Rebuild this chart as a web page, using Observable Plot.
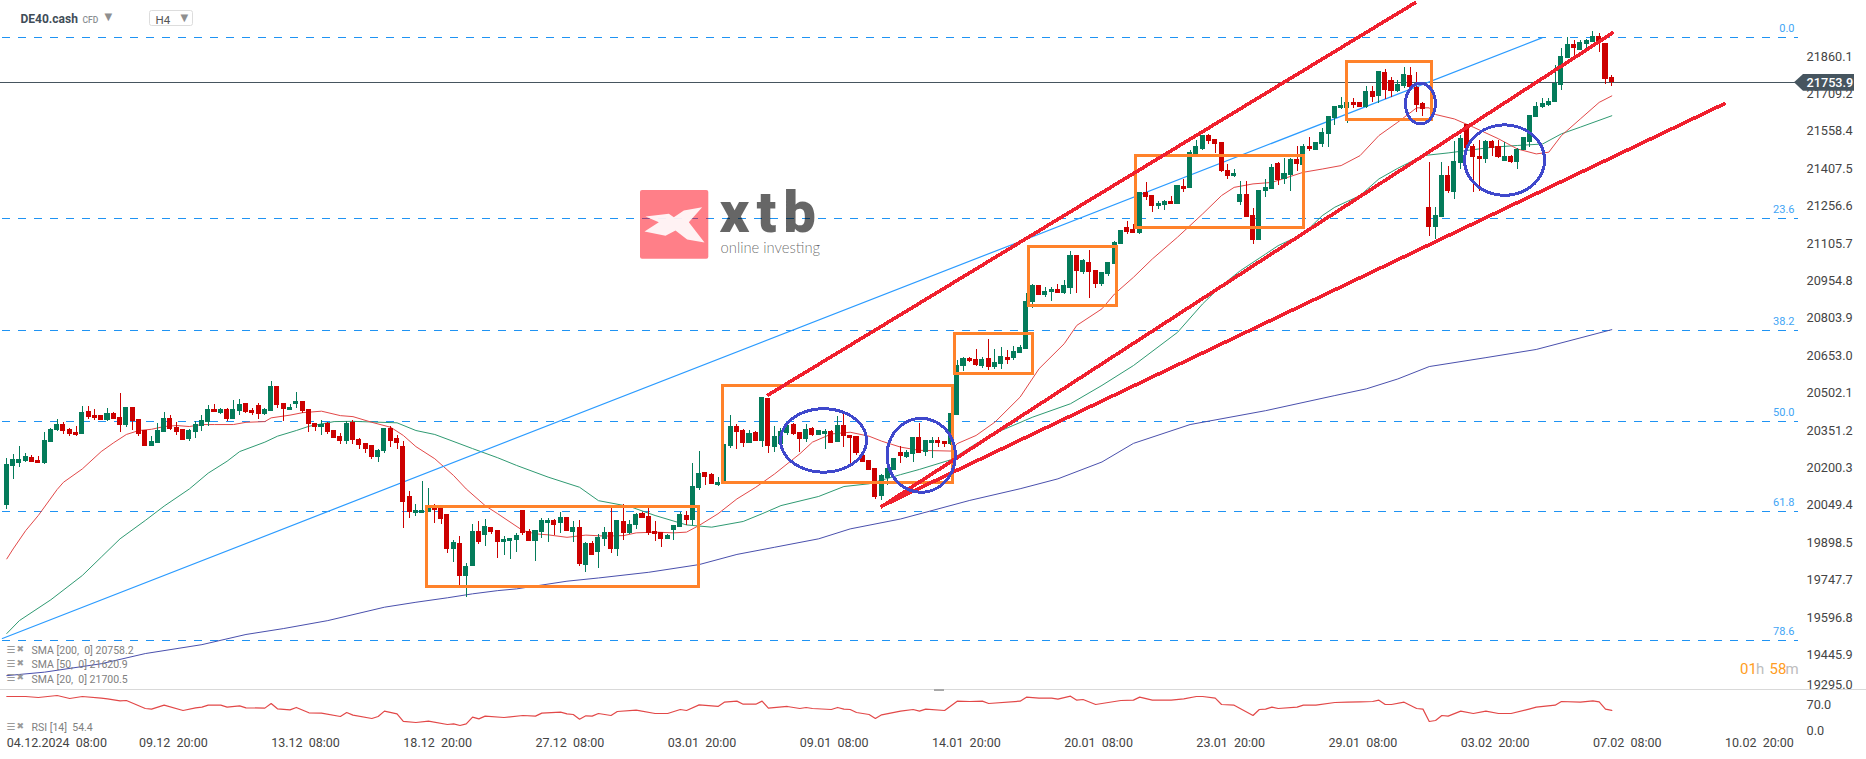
<!DOCTYPE html>
<html><head><meta charset="utf-8">
<script src="https://cdn.jsdelivr.net/npm/d3@7"></script>
<script src="https://cdn.jsdelivr.net/npm/@observablehq/plot@0.6"></script>
<style>html,body{margin:0;padding:0;background:#fff;overflow:hidden}#chart{position:relative;width:1866px;height:759px}svg{display:block;overflow:visible}</style>
</head><body><div id="chart"></div>
<script>
const opens=[20050,20206,20218,20226,20242,20230,20218,20302,20351,20375,
20355,20343,20335,20427,20411,20411,20391,20419,20403,20371,
20444,20395,20351,20286,20298,20343,20399,20363,20355,20314,
20343,20367,20383,20436,20419,20436,20395,20427,20460,20432,
20452,20415,20427,20528,20460,20432,20456,20468,20436,20379,
20363,20379,20351,20327,20306,20383,20314,20298,20290,20242,
20266,20359,20319,20286,20085,20016,20016,20020,20036,20036,
20012,19871,19895,19762,19802,19943,19927,19959,19947,19899,
19903,19907,20028,19943,19903,19939,19976,19988,19976,20000,
19939,19959,19806,19895,19859,19911,19939,19871,19984,19935,
19968,20016,20004,19943,19939,19911,19947,19959,20008,19988,
20117,20181,20173,20129,20143,20287,20367,20351,20299,20343,
20307,20481,20283,20295,20338,20376,20341,20315,20358,20331,
20335,20347,20303,20371,20331,20327,20250,20230,20198,20085,
20158,20190,20263,20241,20254,20323,20263,20299,20311,20307,
20295,20412,20609,20641,20637,20609,20641,20605,20617,20645,
20641,20661,20677,20867,20936,20895,20907,20919,20903,20923,
21057,20988,21028,20996,20940,20980,21020,21101,21170,21162,
21146,21311,21299,21254,21258,21275,21263,21335,21327,21464,
21484,21541,21525,21513,21400,21375,21271,21303,21218,21117,
21315,21323,21428,21363,21380,21444,21420,21497,21480,21505,
21545,21610,21650,21650,21674,21674,21654,21718,21698,21795,
21763,21718,21739,21783,21735,21670,21251,21170,21210,21380,
21311,21428,21585,21497,21456,21444,21517,21497,21436,21456,
21432,21480,21513,21614,21654,21662,21674,21743,21852,21908,
21884,21908,21916,21940,21912,21775];
const highs=[20238,20254,20286,20258,20250,20246,20343,20359,20395,20383,
20359,20367,20448,20448,20436,20411,20440,20423,20500,20444,
20444,20395,20351,20327,20379,20423,20411,20383,20355,20355,
20387,20411,20452,20456,20440,20440,20472,20476,20460,20440,
20460,20440,20549,20528,20460,20456,20504,20468,20436,20379,
20391,20383,20351,20339,20387,20391,20319,20298,20290,20274,
20359,20367,20331,20306,20105,20052,20145,20117,20052,20036,
20012,19907,19923,19814,19972,19984,19992,19959,19947,19923,
19915,19935,20028,19951,19947,19996,19996,19992,20020,20000,
19984,19988,19899,19903,19931,19959,20036,19988,20052,19988,
20016,20020,20036,19984,19939,19931,19968,20020,20024,20218,
20266,20181,20177,20161,20295,20412,20376,20355,20351,20347,
20485,20481,20367,20360,20385,20380,20341,20376,20362,20351,
20355,20351,20408,20419,20331,20327,20250,20230,20198,20174,
20198,20238,20287,20271,20323,20380,20311,20323,20323,20307,
20420,20634,20645,20645,20677,20644,20718,20677,20685,20673,
20689,20693,20903,20940,20936,20927,20927,20940,20956,21073,
21057,21040,21077,20996,20988,21028,21113,21157,21194,21182,
21311,21351,21299,21275,21279,21295,21339,21363,21480,21521,
21541,21545,21525,21513,21424,21404,21355,21355,21246,21319,
21363,21424,21432,21448,21448,21497,21505,21533,21513,21569,
21618,21658,21694,21674,21690,21674,21739,21739,21799,21807,
21775,21763,21815,21815,21795,21674,21432,21251,21432,21416,
21517,21541,21585,21505,21521,21521,21521,21521,21513,21460,
21488,21533,21622,21674,21690,21690,21823,21892,21936,21924,
21924,21928,21961,21953,21912,21783];
const lows=[20033,20153,20202,20222,20222,20218,20214,20302,20347,20335,
20327,20327,20335,20395,20391,20391,20387,20395,20343,20363,
20351,20327,20286,20286,20298,20343,20351,20331,20310,20306,
20319,20347,20367,20423,20415,20387,20395,20411,20419,20411,
20395,20411,20427,20440,20387,20432,20440,20419,20343,20347,
20331,20335,20319,20294,20294,20294,20274,20258,20234,20222,
20258,20282,20274,19955,19996,20004,20016,20020,19976,19972,
19855,19818,19721,19677,19802,19891,19883,19931,19834,19846,
19830,19859,19927,19903,19822,19915,19899,19927,19935,19943,
19899,19802,19778,19846,19794,19883,19855,19842,19907,19931,
19951,19996,19927,19903,19879,19911,19907,19959,19968,19968,
20109,20129,20133,20125,20143,20279,20275,20283,20299,20307,
20283,20259,20263,20295,20330,20330,20261,20304,20328,20331,
20275,20299,20303,20283,20214,20250,20222,20190,20072,20069,
20129,20190,20218,20238,20222,20259,20246,20238,20283,20283,
20291,20412,20589,20625,20609,20601,20593,20597,20597,20617,
20633,20661,20677,20843,20895,20887,20871,20903,20899,20899,
20903,20980,20883,20923,20931,20972,21020,21101,21141,21146,
21141,21279,21230,21242,21238,21263,21263,21311,21327,21464,
21480,21505,21468,21392,21363,21371,21258,21210,21101,21117,
21291,21323,21339,21343,21315,21396,21420,21476,21480,21493,
21493,21581,21646,21589,21650,21654,21650,21674,21670,21686,
21694,21715,21731,21731,21634,21618,21133,21121,21210,21307,
21283,21404,21488,21311,21315,21428,21456,21448,21436,21428,
21404,21480,21493,21614,21650,21658,21674,21723,21852,21852,
21884,21892,21916,21876,21747,21739];
const closes=[20214,20234,20234,20246,20222,20218,20310,20355,20375,20347,
20335,20331,20423,20403,20399,20391,20419,20395,20371,20444,
20387,20335,20286,20306,20351,20399,20355,20343,20310,20351,
20375,20391,20436,20423,20436,20395,20436,20456,20423,20419,
20415,20436,20528,20452,20436,20444,20468,20427,20375,20363,
20375,20343,20319,20306,20379,20310,20290,20274,20242,20270,
20359,20306,20298,20060,20020,20028,20028,20036,20028,19992,
19871,19899,19762,19802,19943,19899,19963,19939,19899,19911,
19915,19927,19935,19903,19947,19988,19988,19968,20000,19943,
19959,19810,19895,19846,19919,19939,19871,19988,19935,19972,
20012,19996,19935,19931,19911,19927,19968,20012,19988,20125,
20177,20161,20133,20141,20295,20367,20343,20299,20339,20307,
20485,20287,20327,20349,20371,20335,20315,20354,20331,20351,
20347,20299,20371,20327,20319,20259,20222,20190,20082,20170,
20198,20238,20246,20263,20323,20259,20311,20311,20299,20295,
20420,20613,20641,20629,20613,20637,20605,20625,20649,20633,
20669,20685,20871,20936,20895,20911,20919,20903,20936,21057,
20992,21036,20988,20940,20988,21028,21109,21157,21149,21146,
21311,21291,21254,21267,21275,21263,21339,21323,21472,21497,
21541,21517,21505,21396,21375,21388,21303,21210,21117,21319,
21331,21412,21359,21388,21444,21424,21497,21484,21513,21553,
21618,21658,21662,21674,21662,21654,21718,21694,21799,21723,
21718,21747,21787,21735,21662,21646,21170,21218,21380,21315,
21436,21529,21488,21452,21444,21517,21488,21452,21456,21432,
21484,21533,21622,21658,21670,21678,21751,21860,21908,21892,
21916,21924,21940,21920,21767,21754];

const sma20Idx=[0,1,3,5,8,9,12,15,17,19,21,23,25,27,29,31,33,36,38,41,42,45,47,50,53,55,58,61,63,65,68,71,73,76,78,82,84,86,89,92,95,98,100,103,106,108,110,113,116,119,122,126,128,131,134,137,139,142,145,150,151,154,157,161,164,168,170,174,176,179,182,186,190,193,195,198,201,206,209,212,215,218,221,224,226,227,230,233,237,240,243,245,247,250,253,255];
const sma20Val=[19833,19873,19947,20008,20113,20142,20196,20266,20302,20335,20351,20356,20367,20371,20367,20375,20375,20375,20384,20387,20402,20413,20423,20429,20411,20407,20384,20364,20331,20286,20237,20169,20115,20048,20015,19947,19934,19930,19920,19929,19925,19927,19938,19941,19938,19941,19968,20015,20075,20122,20176,20257,20304,20337,20344,20328,20308,20284,20271,20268,20298,20331,20385,20486,20600,20701,20775,20842,20902,20969,21043,21131,21225,21299,21332,21346,21352,21393,21406,21420,21460,21541,21595,21653,21653,21626,21608,21575,21528,21487,21467,21474,21541,21608,21675,21701];
const sma50Idx=[0,2,7,12,15,18,22,25,29,32,35,37,41,43,46,48,52,55,62,65,68,72,74,78,81,86,91,94,99,103,108,112,117,120,123,129,133,137,142,145,150,154,158,163,169,174,179,186,190,193,196,200,202,206,209,211,215,218,221,225,229,236,240,244,247,250,255];
const sma50Val=[19532,19584,19668,19766,19840,19914,19988,20046,20115,20179,20227,20266,20304,20328,20351,20368,20387,20388,20382,20351,20335,20297,20278,20241,20210,20163,20122,20068,20044,20008,19970,19961,19984,20015,20048,20085,20125,20136,20173,20194,20233,20298,20351,20405,20459,20533,20613,20747,20862,20936,20996,21063,21097,21144,21218,21252,21299,21366,21409,21460,21471,21494,21501,21507,21548,21575,21621];
const sma200Idx=[0,6,15,22,31,38,44,51,55,60,65,70,74,78,81,89,94,102,110,116,122,129,134,142,153,161,167,174,179,188,200,211,216,221,226,235,243,255];
const sma200Val=[19362,19376,19410,19451,19487,19528,19552,19584,19608,19638,19658,19676,19692,19705,19712,19743,19756,19779,19810,19851,19880,19914,19954,19994,20069,20116,20156,20224,20299,20375,20431,20492,20519,20559,20609,20645,20678,20758];
const rsiIdx=[0,3,5,8,10,12,15,16,18,19,22,23,25,28,30,31,32,34,35,37,38,41,42,43,45,46,48,50,53,54,55,58,59,60,62,63,65,67,70,71,72,73,74,75,76,79,82,84,85,88,89,90,91,92,93,94,96,97,100,103,105,107,108,110,113,114,116,117,119,120,121,124,126,127,128,131,132,133,134,135,137,138,139,142,144,145,146,149,151,153,155,156,161,162,164,166,167,169,170,171,173,177,179,180,182,185,187,189,190,192,193,195,198,199,200,201,202,205,206,208,211,213,215,217,218,219,220,222,224,225,226,227,228,229,231,233,235,237,239,242,243,246,247,250,252,253,254,255];
const rsiVal=[91.6,91.6,88.9,94.3,86.2,91.6,87,85.3,79.9,80.8,59.3,57.5,68.2,53.9,61,62.9,68.2,68.2,62.9,66.4,61,60.2,72.7,58.4,55.7,62,47.6,46.7,37.7,48.5,41.3,32.3,37.7,52.1,44.9,24.3,21.6,25.2,16.2,18,13.5,18,35.9,31.4,38.6,35,40.4,38.6,46.7,49.4,44.9,43.1,30.5,39.5,38.6,45.8,40.4,51.2,54.8,45.8,45.8,56.6,53.9,69.1,64.7,76.3,79,70.9,70.9,79,60.2,64.7,59.3,62,59.3,56.6,62,57.5,56.6,48.5,43.1,32.3,42.2,52.1,56.6,52.1,57.5,53.9,79,78.1,79,72.7,79,89.8,87.1,87.1,84.4,92.5,81.7,83.5,70,80.8,81.7,89.8,81.7,81.7,85.3,91.6,91.6,87,70,68.2,40.4,56.6,57.5,62.9,59.3,62.9,68.2,68.2,75.4,76.3,77.2,78.1,81.7,70,70,76.3,59.3,57.5,24.3,27,40.4,38.6,52.1,45.8,52.1,45.8,45.8,58.4,62.9,68.2,78.1,76.3,79.9,77.2,57.5,54.4];

const fibLevels=["0.0","23.6","38.2","50.0","61.8","78.6"];
const fibPrices=[21935.5,21205,20753,20387,20023,19504];
const priceTicks=[21860.1,21709.2,21558.4,21407.5,21256.6,21105.7,20954.8,20803.9,20653.0,20502.1,20351.2,20200.3,20049.4,19898.5,19747.7,19596.8,19445.9,19295.0];
const dateTickIdx=[0,21,42,63,84,105,126,147,168,189,210,231,252,273];
const dateTicks=["04.12.2024  08:00","09.12  20:00","13.12  08:00","18.12  20:00","27.12  08:00","03.01  20:00","09.01  08:00","14.01  20:00","20.01  08:00","23.01  20:00","29.01  08:00","03.02  20:00","07.02  08:00","10.02  20:00"];
const lastPrice=21753.9;

const boxStart=[66.79,113.82,150.68,162.38,179.38,212.97];
const boxEnd=[109.95,150.36,163.08,176.31,206.13,226.47];
const boxTop=[20041.5,20532.5,20741,21092,21459,21837];
const boxBottom=[19719,20140,20580,20854,21169,21605];

const trendStartIdx=[120.8,138.8,138.8];
const trendStartVal=[20492,20041,20043];
const trendEndIdx=[223.9,255.3,273.1];
const trendEndVal=[22079,21958,21672];
const thinStartIdx=-0.7, thinStartVal=19512, thinEndIdx=243.9, thinEndVal=21935;

const circleIdx=[129.76,145.28,224.6,237.96];
const circleVal=[20311,20251,21670,21442];
const circleRadIdx=[6.83,5.43,2.38,6.36];
const circleRadVal=[128,149,82,142];

const legendLines=["SMA [200,  0] 20758.2","SMA [50,  0] 21620.9","SMA [20,  0] 21700.5"];

// scales shared by both panels
const W=1866, H1=689, H2=70;
const xDomain=[-1.001,295.47];
const yDomain=[22086,19306];
const rsiDomain=[110.4,-78.1];
const atX=px=>xDomain[0]+px*(xDomain[1]-xDomain[0])/W;
const atY=py=>yDomain[0]+py*(yDomain[1]-yDomain[0])/H1;

const candles=opens.map((o,i)=>({i,o,h:highs[i],l:lows[i],c:closes[i]}));
const ups=candles.filter(d=>d.c>=d.o), downs=candles.filter(d=>d.c<d.o);
const series=(a,b)=>a.map((x,k)=>({x,y:b[k]}));
const GREEN="#047b5a", RED="#cc0000";
const bw=0.40;

const boxes=boxStart.map((s,k)=>({x1:s,x2:boxEnd[k],y1:boxTop[k],y2:boxBottom[k]}));
const circlePts=circleIdx.flatMap((cx,k)=>d3.range(0,73).map(a=>({k,x:cx+circleRadIdx[k]*Math.cos(a*Math.PI/36),y:circleVal[k]+circleRadVal[k]*Math.sin(a*Math.PI/36)})));
const trendPts=trendStartIdx.flatMap((s,k)=>[{k,x:s,y:trendStartVal[k]},{k,x:trendEndIdx[k],y:trendEndVal[k]}]);

const logoMark=[[245,110],[190,120],[160,140],[145,130],[75,138],[115,155],[72,183],[135,196],[165,180],[200,207],[252,216],[205,155]]
  .map(([a,b])=>({x:atX(620+a/3),y:atY(170+b/3)}));

const T=(s,dx,dy,o={})=>Plot.text([s],{frameAnchor:"top-left",dx,dy,textAnchor:"start",lineAnchor:"middle",fontFamily:"Roboto",...o});

const main=Plot.plot({
  width:W,height:H1,marginTop:0,marginRight:0,marginBottom:0,marginLeft:0,
  style:{background:"transparent",overflow:"visible"},
  x:{type:"linear",domain:xDomain,range:[0,W],axis:null},
  y:{type:"linear",domain:yDomain,range:[0,H1],axis:null},
  marks:[
    // fibonacci levels
    Plot.ruleY(fibPrices,{x1:atX(2),x2:atX(1798),stroke:"#1f93f3",strokeWidth:1,strokeDasharray:"8,8",shapeRendering:"crispEdges"}),
    Plot.text(fibLevels,{x:atX(1794),y:(d,k)=>fibPrices[k],dy:-9,text:d=>d,textAnchor:"end",fill:"#42a5f5",fontSize:11,fontFamily:"Roboto"}),
    // last price
    Plot.ruleY([lastPrice],{x1:atX(0),x2:atX(1795),stroke:"#46555f",strokeWidth:1,shapeRendering:"crispEdges"}),
    // moving averages + thin trend line
    Plot.line(series(sma200Idx,sma200Val),{x:"x",y:"y",stroke:"#4a50ad",strokeWidth:1}),
    Plot.line(series(sma50Idx,sma50Val),{x:"x",y:"y",stroke:"#2f9a72",strokeWidth:1}),
    Plot.line(series(sma20Idx,sma20Val),{x:"x",y:"y",stroke:"#e24848",strokeWidth:1}),
    Plot.line([{x:thinStartIdx,y:thinStartVal},{x:thinEndIdx,y:thinEndVal}],{x:"x",y:"y",stroke:"#2b9bff",strokeWidth:1.2}),
    // candles
    Plot.ruleX(ups,{x:"i",y1:"l",y2:"h",stroke:GREEN,strokeWidth:1,shapeRendering:"crispEdges"}),
    Plot.ruleX(downs,{x:"i",y1:"l",y2:"h",stroke:RED,strokeWidth:1,shapeRendering:"crispEdges"}),
    Plot.rect(ups,{x1:d=>d.i-bw,x2:d=>d.i+bw,y1:"o",y2:"c",fill:GREEN,shapeRendering:"crispEdges"}),
    Plot.rect(downs,{x1:d=>d.i-bw,x2:d=>d.i+bw,y1:"o",y2:"c",fill:RED,shapeRendering:"crispEdges"}),
    // drawn annotations
    Plot.rect(boxes,{x1:"x1",x2:"x2",y1:"y1",y2:"y2",fill:"none",stroke:"#ff822a",strokeWidth:3,shapeRendering:"crispEdges"}),
    Plot.line(trendPts,{x:"x",y:"y",z:"k",stroke:"#f0202e",strokeWidth:3.6,strokeLinecap:"butt",shapeRendering:"crispEdges"}),
    Plot.line(circlePts,{x:"x",y:"y",z:"k",stroke:"#3f48cc",strokeWidth:3,shapeRendering:"crispEdges"}),
    // price-axis labels
    Plot.text(priceTicks,{x:atX(1806),y:d=>d,text:d=>d.toFixed(1),textAnchor:"start",fill:"#444",fontSize:12.7,fontFamily:"Roboto",filter:d=>d>19300}),
    Plot.text([19295.0],{x:atX(1806),y:d=>d,dy:-7,text:d=>d.toFixed(1),textAnchor:"start",fill:"#444",fontSize:12.7,fontFamily:"Roboto"}),
    // last-price flag
    Plot.areaY([{x:atX(1794),a:lastPrice,b:lastPrice},{x:atX(1803),a:atY(74),b:atY(90.7)},{x:atX(1854),a:atY(74),b:atY(90.7)}],{x:"x",y1:"a",y2:"b",fill:"#46555f",curve:"linear"}),
    Plot.text([lastPrice],{x:atX(1806),y:d=>d,text:d=>d.toFixed(1),textAnchor:"start",fill:"#fff",fontSize:12.7,fontFamily:"Roboto",fontWeight:500}),
    // logo
    Plot.rect([0],{x1:atX(640),x2:atX(708.3),y1:atY(190),y2:atY(258.7),fill:"#ff0012",fillOpacity:0.5,rx:2}),
    Plot.line(logoMark,{x:"x",y:"y",fill:"#fff",fillOpacity:0.9,stroke:"none",curve:"linear-closed"}),
    T("xtb",719,213,{fontSize:58,fontWeight:900,fill:"#000",fillOpacity:0.6}),
    T("online investing",720,247.5,{fontSize:14.8,fontWeight:300,fill:"#000",fillOpacity:0.6,fontFamily:"Lato"}),
    // header
    T("DE40.cash",20,19,{fontSize:12,fontWeight:700,fill:"#3f4d58"}),
    T("CFD",82,19.5,{fontSize:8.5,fontWeight:500,fill:"#8a8f94"}),
    T("▼",104,16,{fontSize:10,fill:"#8f8f8f",fontFamily:"DejaVu Sans"}),
    Plot.rect([0],{x1:atX(149.5),x2:atX(192.5),y1:atY(10.5),y2:atY(25.5),fill:"#fff",stroke:"#ddd",strokeWidth:1,rx:2}),
    T("H4",155,19.5,{fontSize:11.5,fill:"#555"}),
    T("▼",180,17,{fontSize:10,fill:"#8f8f8f",fontFamily:"DejaVu Sans"}),
    // SMA legend
    T("☰",6,649,{fontSize:10,fill:"#9a9a9a",fontFamily:"DejaVu Sans"}),T("✖",16,649,{fontSize:9,fill:"#9a9a9a",fontFamily:"DejaVu Sans"}),
    T("☰",6,663,{fontSize:10,fill:"#9a9a9a",fontFamily:"DejaVu Sans"}),T("✖",16,663,{fontSize:9,fill:"#9a9a9a",fontFamily:"DejaVu Sans"}),
    T("☰",6,677,{fontSize:10,fill:"#9a9a9a",fontFamily:"DejaVu Sans"}),T("✖",16,677,{fontSize:9,fill:"#9a9a9a",fontFamily:"DejaVu Sans"}),
    T(legendLines[0],31,650.2,{fontSize:10.5,fill:"#808080"}),
    T(legendLines[1],31,664.3,{fontSize:10.5,fill:"#808080"}),
    T(legendLines[2],31,678.7,{fontSize:10.5,fill:"#808080"}),
    // countdown
    T("01",1739.5,669,{fontSize:15,fill:"#ff9d23"}),
    T("h",1755.5,669,{fontSize:15,fill:"#bdbdbd"}),
    T("58",1769,669,{fontSize:15,fill:"#ff9d23"}),
    T("m",1785,669,{fontSize:15,fill:"#bdbdbd"})
  ]
});

const lower=Plot.plot({
  width:W,height:H2,marginTop:0,marginRight:0,marginBottom:0,marginLeft:0,
  style:{background:"transparent",overflow:"visible"},
  x:{type:"linear",domain:xDomain,range:[0,W],axis:null},
  y:{type:"linear",domain:rsiDomain,range:[0,H2],axis:null},
  marks:[
    Plot.ruleY([110.4],{stroke:"#d9d9d9",strokeWidth:1}),
    Plot.rect([0],{x1:atX(934),x2:atX(944),y1:110.4,y2:105,fill:"#a8a8a8"}),
    Plot.line(series(rsiIdx,rsiVal),{x:"x",y:"y",stroke:"#e24848",strokeWidth:1.2}),
    Plot.text([70,0],{x:atX(1806),y:d=>d,text:d=>d.toFixed(1),textAnchor:"start",fill:"#444",fontSize:12.7,fontFamily:"Roboto"}),
    Plot.text(dateTicks,{x:(d,k)=>dateTickIdx[k],frameAnchor:"top",dy:53.7,lineAnchor:"middle",text:d=>d,textAnchor:"start",fill:"#444",fontSize:12.5,fontFamily:"Roboto"}),
    T("☰",6,37,{fontSize:10,fill:"#9a9a9a",fontFamily:"DejaVu Sans"}),T("✖",16,37,{fontSize:9,fill:"#9a9a9a",fontFamily:"DejaVu Sans"}),
    T("RSI [14]  54.4",31,38.3,{fontSize:10.5,fill:"#808080"})
  ]
});

const box=document.getElementById("chart");
box.append(main,lower);
d3.selectAll("text").filter(function(){return this.textContent==="xtb"}).style("letter-spacing","7px");
d3.selectAll("text").style("white-space","pre");
</script></body></html>
